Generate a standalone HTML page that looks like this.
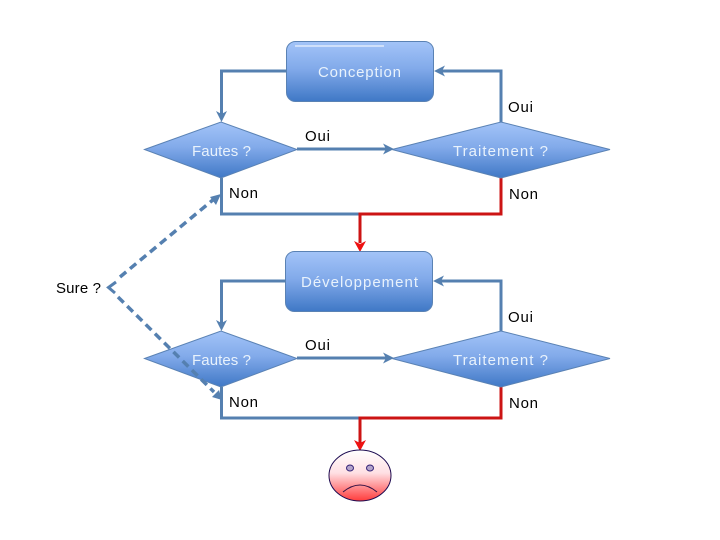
<!DOCTYPE html>
<html>
<head>
<meta charset="utf-8">
<style>
html,body{margin:0;padding:0;background:#fff;width:720px;height:540px;overflow:hidden}
svg{display:block}
text{font-family:"Liberation Sans",sans-serif;font-size:15px}
.w{fill:#e8f2fc}
.k{fill:#000}
.b{fill:none;stroke:#5580b0;stroke-width:3}
.r{fill:none;stroke:#cc1414;stroke-width:3}
.d{fill:none;stroke:#5580b0;stroke-width:3.500;stroke-dasharray:8 5}
.s{stroke:#5a82b4;stroke-width:1}
</style>
</head>
<body>
<svg width="720" height="540" viewBox="0 0 720 540" xmlns="http://www.w3.org/2000/svg">
<defs>
<linearGradient id="g" x1="0" y1="0" x2="0" y2="1">
<stop offset="0" stop-color="#a3c4f8"/>
<stop offset="0.45" stop-color="#82aaea"/>
<stop offset="1" stop-color="#3f78c6"/>
</linearGradient>
<linearGradient id="f" x1="0" y1="0" x2="0" y2="1">
<stop offset="0" stop-color="#ffffff"/>
<stop offset="0.45" stop-color="#ffe0e4"/>
<stop offset="1" stop-color="#ff3b3b"/>
</linearGradient>
</defs>

<!-- top block connectors -->
<path class="b" d="M286 71H221.500V114"/>
<path class="b" d="M501 122V71H442"/>
<path class="b" d="M297 149H386"/>
<path class="b" d="M221.500 178V214H360"/>
<path class="r" d="M501 178V214H360V243"/>
<path d="M216 111L221.500 114L227 111L221.500 122Z" fill="#5580b0"/>
<path d="M434 71L445 65.500L442 71L445 76.500Z" fill="#5580b0"/>
<path d="M394 149L383 143.500L386 149L383 154.500Z" fill="#5580b0"/>
<path d="M354 241L360 244L366 241L360 252Z" fill="#ee1111"/>

<!-- lower block connectors -->
<path class="b" d="M285 281H221.500V323"/>
<path class="b" d="M501 331V281H441"/>
<path class="b" d="M297 358H386"/>
<path class="b" d="M221.500 387V418H360"/>
<path class="r" d="M501 387V418H360V443"/>
<path d="M216 320L221.500 323L227 320L221.500 331Z" fill="#5580b0"/>
<path d="M433 281L444 275.500L441 281L444 286.500Z" fill="#5580b0"/>
<path d="M394 358L383 352.500L386 358L383 363.500Z" fill="#5580b0"/>
<path d="M354 440L360 443L366 440L360 451Z" fill="#ee1111"/>

<!-- shapes -->
<rect class="s" x="286.500" y="41.500" width="147" height="60" rx="9" fill="url(#g)"/>
<path d="M295 46H384" stroke="#fff" stroke-width="1"/>
<rect class="s" x="285.500" y="251.500" width="147" height="60" rx="9" fill="url(#g)"/>

<path class="s" d="M144.500 149.500L221 122L297 149.500L221 178Z" fill="url(#g)"/>
<path class="s" d="M392 149.500L501 122L610 149.500L501 178Z" fill="url(#g)"/>
<path class="s" d="M144.500 358.500L221 331L297 358.500L221 387Z" fill="url(#g)"/>
<path class="s" d="M392 358.500L501 331L610 358.500L501 387Z" fill="url(#g)"/>

<!-- dashed -->
<path class="d" d="M120 277L214 199"/>
<path class="d" d="M118 297L214 392"/>
<path d="M221 194L210 197L216 205Z" fill="#5580b0"/>
<path d="M222 400L212 397L219 390Z" fill="#5580b0"/>
<path class="b" d="M116 282L108.500 287.500L115 293"/>

<!-- face -->
<ellipse cx="360" cy="475.500" rx="31" ry="25.500" fill="url(#f)" stroke="#1c0a50" stroke-width="1"/>
<ellipse cx="350" cy="468" rx="3.500" ry="3" fill="#b4a4cc" stroke="#332277" stroke-width="1"/>
<ellipse cx="370" cy="468" rx="3.500" ry="3" fill="#b4a4cc" stroke="#332277" stroke-width="1"/>
<path d="M343 492Q360 478 377 492" fill="none" stroke="#331144" stroke-width="1"/>

<!-- labels -->
<text class="w" x="318" y="77" textLength="83" lengthAdjust="spacing">Conception</text>
<text class="w" x="301" y="287" textLength="117" lengthAdjust="spacing">Développement</text>
<text class="w" x="192" y="156" textLength="59" lengthAdjust="spacing">Fautes ?</text>
<text class="w" x="453" y="156" textLength="95" lengthAdjust="spacing">Traitement ?</text>
<text class="w" x="192" y="365" textLength="59" lengthAdjust="spacing">Fautes ?</text>
<text class="w" x="453" y="365" textLength="95" lengthAdjust="spacing">Traitement ?</text>

<text class="k" x="508" y="112" textLength="25" lengthAdjust="spacing">Oui</text>
<text class="k" x="305" y="141" textLength="25" lengthAdjust="spacing">Oui</text>
<text class="k" x="229" y="198" textLength="29" lengthAdjust="spacing">Non</text>
<text class="k" x="509" y="199" textLength="29" lengthAdjust="spacing">Non</text>
<text class="k" x="56" y="293" textLength="45" lengthAdjust="spacing">Sure ?</text>
<text class="k" x="508" y="322" textLength="25" lengthAdjust="spacing">Oui</text>
<text class="k" x="305" y="350" textLength="25" lengthAdjust="spacing">Oui</text>
<text class="k" x="229" y="407" textLength="29" lengthAdjust="spacing">Non</text>
<text class="k" x="509" y="408" textLength="29" lengthAdjust="spacing">Non</text>
</svg>
</body>
</html>
